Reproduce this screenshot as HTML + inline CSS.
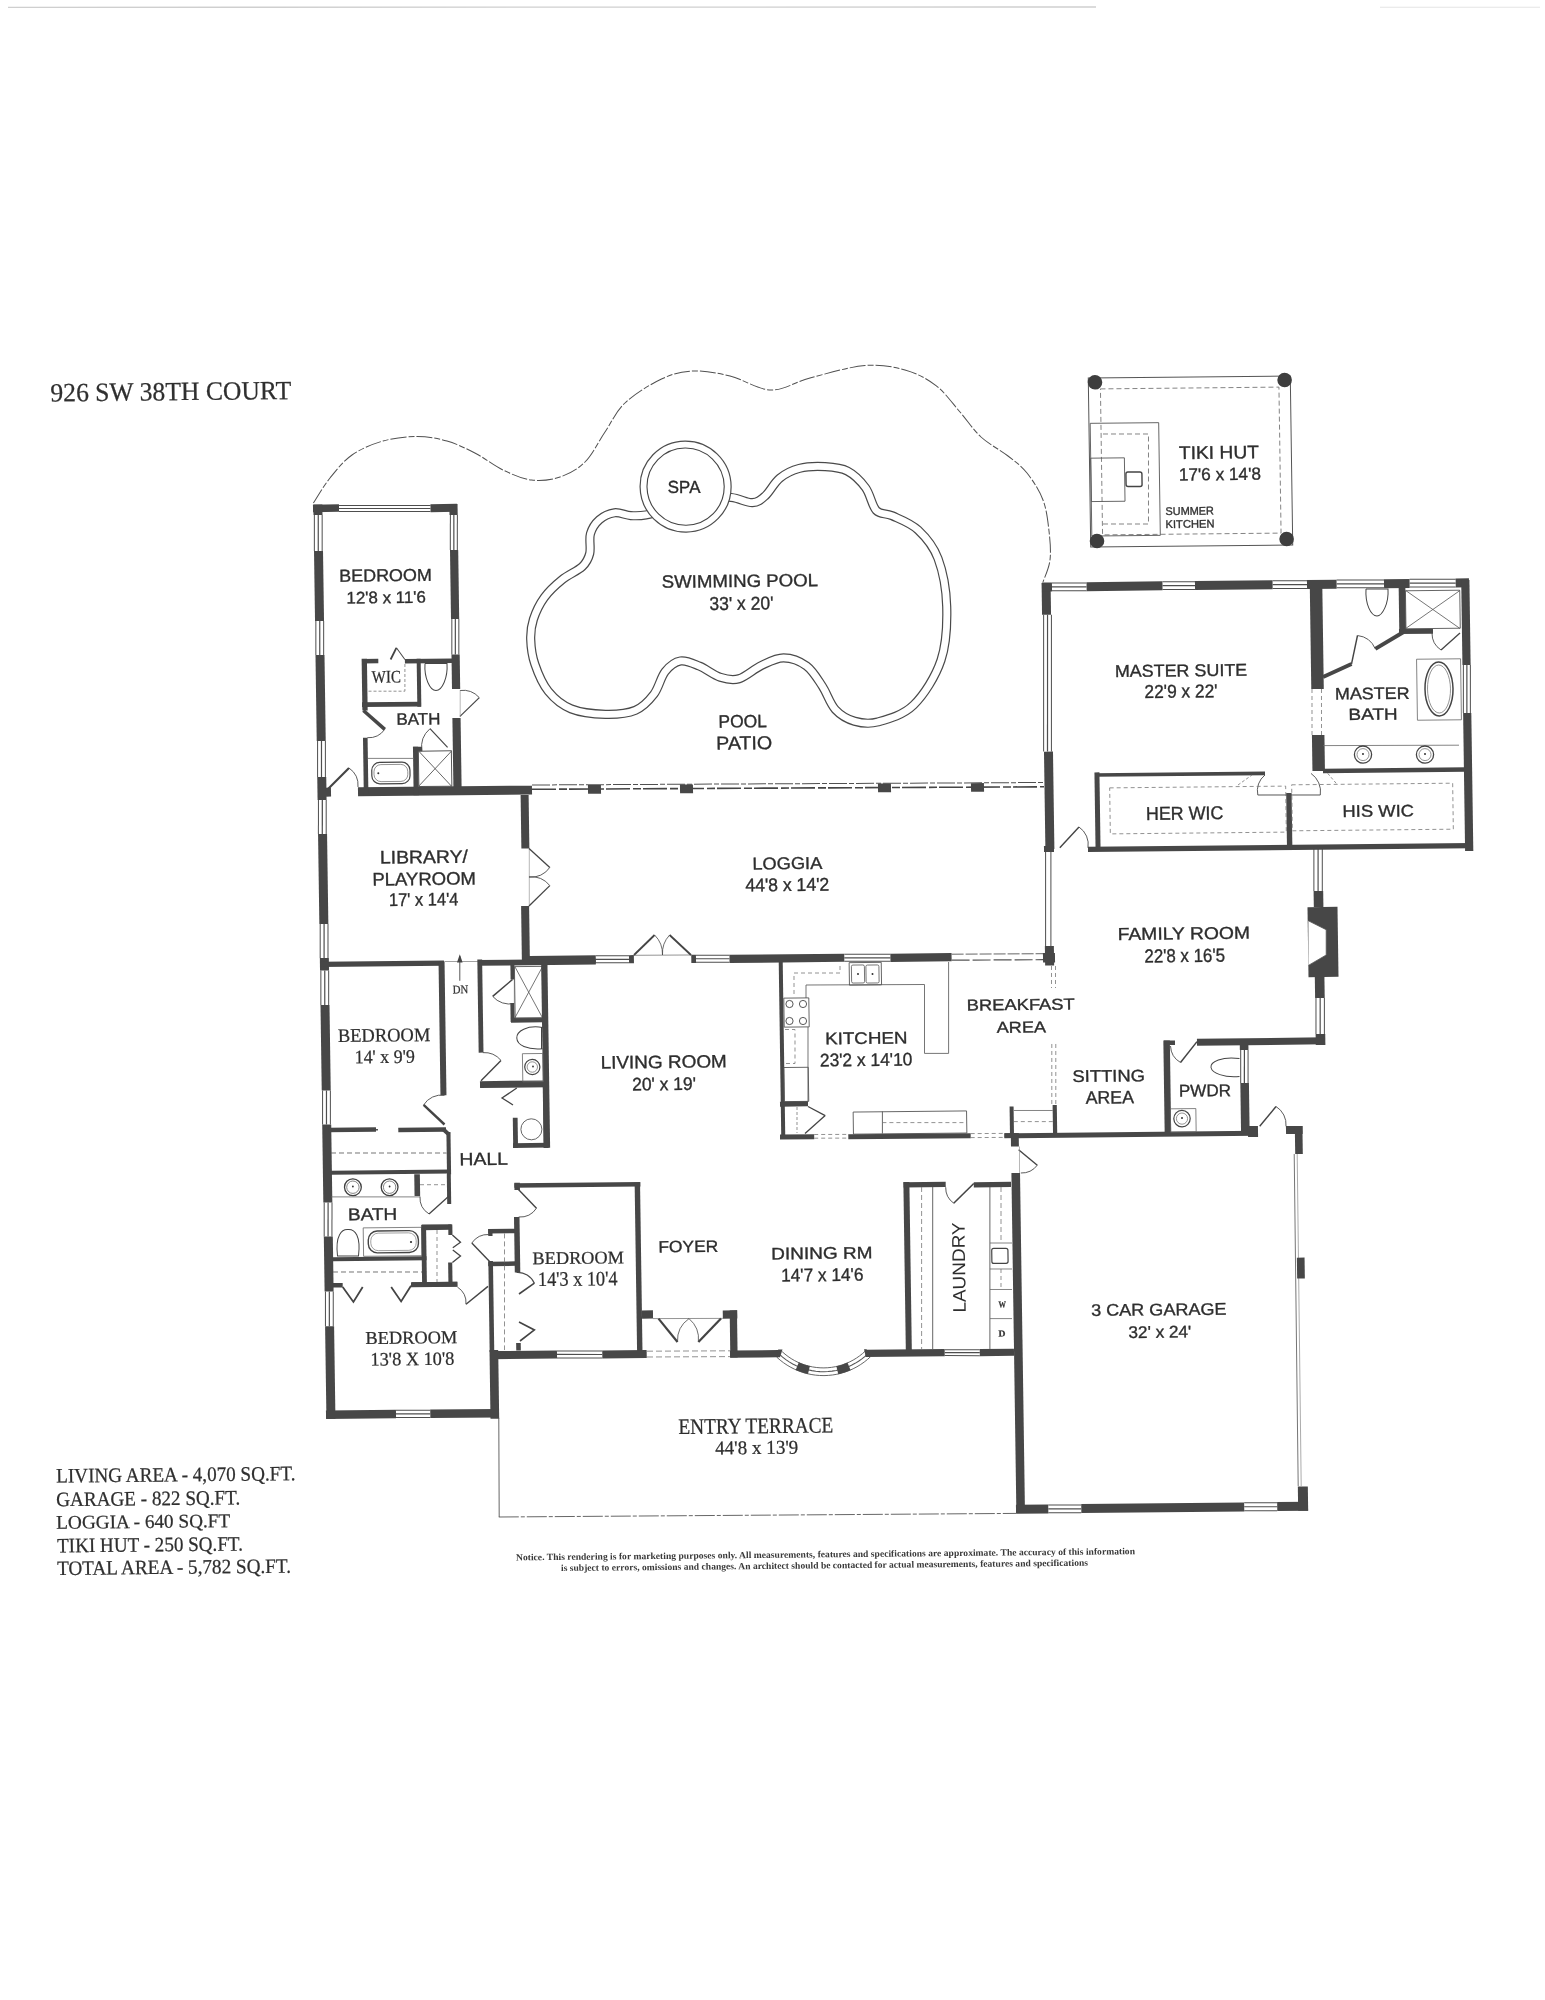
<!DOCTYPE html>
<html><head><meta charset="utf-8"><title>926 SW 38th Court</title>
<style>html,body{margin:0;padding:0;background:#fff;}svg{display:block;will-change:transform;}</style></head>
<body>
<svg width="1545" height="2000" viewBox="0 0 1545 2000">
<rect x="0" y="0" width="1545" height="2000" fill="#ffffff"/>
<line x1="8" y1="7.3" x2="1096" y2="7.0" stroke="#cfcfcf" stroke-width="1.3"/><line x1="1380" y1="7.2" x2="1540" y2="7.2" stroke="#e4e4e4" stroke-width="1.1"/>
<g transform="matrix(1,-0.010000,0.014500,1,-13.7750,9.0000)">
<text x="58.58" y="392.99" font-family='"Liberation Serif", serif' font-size="26.28" font-weight="normal" fill="#2f2f2f" stroke="#2f2f2f" stroke-width="0.25" textLength="240.8" lengthAdjust="spacingAndGlyphs">926 SW 38TH COURT</text>
<text x="48.7" y="1474.09" font-family='"Liberation Serif", serif' font-size="20.54" font-weight="normal" fill="#2f2f2f" stroke="#2f2f2f" stroke-width="0.25" textLength="239.2" lengthAdjust="spacingAndGlyphs">LIVING AREA - 4,070 SQ.FT.</text>
<text x="48.36" y="1497.68" font-family='"Liberation Serif", serif' font-size="20.54" font-weight="normal" fill="#2f2f2f" stroke="#2f2f2f" stroke-width="0.25" textLength="184" lengthAdjust="spacingAndGlyphs">GARAGE - 822 SQ.FT.</text>
<text x="48.03" y="1520.28" font-family='"Liberation Serif", serif' font-size="19.34" font-weight="normal" fill="#2f2f2f" stroke="#2f2f2f" stroke-width="0.25" textLength="174" lengthAdjust="spacingAndGlyphs">LOGGIA - 640 SQ.FT</text>
<text x="48.59" y="1543.89" font-family='"Liberation Serif", serif' font-size="20.54" font-weight="normal" fill="#2f2f2f" stroke="#2f2f2f" stroke-width="0.25" textLength="185.8" lengthAdjust="spacingAndGlyphs">TIKI HUT - 250 SQ.FT.</text>
<text x="48.26" y="1566.48" font-family='"Liberation Serif", serif' font-size="20.39" font-weight="normal" fill="#2f2f2f" stroke="#2f2f2f" stroke-width="0.25" textLength="233.8" lengthAdjust="spacingAndGlyphs">TOTAL AREA - 5,782 SQ.FT.</text>
<text x="507.21" y="1556.47" font-family='"Liberation Serif", serif' font-size="9.37" font-weight="bold" fill="#3a3a3a" textLength="619" lengthAdjust="spacingAndGlyphs">Notice. This rendering is for marketing purposes only. All measurements, features and specifications are approximate. The accuracy of this information</text>
<text x="552.05" y="1567.52" font-family='"Liberation Serif", serif' font-size="9.37" font-weight="bold" fill="#3a3a3a" textLength="527" lengthAdjust="spacingAndGlyphs">is subject to errors, omissions and changes. An architect should be contacted for actual measurements, features and specifications</text>
<path d="M319.97 497.2 C322.79 493.06 330.38 480.3 336.93 472.37 C343.47 464.43 350.33 455.67 359.26 449.59 C368.18 443.52 379.51 438.88 390.45 435.9 C401.4 432.93 414.25 431.64 424.91 431.75 C435.58 431.86 444.75 433.61 454.45 436.54 C464.14 439.47 473.8 444.4 483.06 449.33 C492.32 454.26 500.8 461.59 510.02 466.1 C519.23 470.61 528.89 475.12 538.37 476.38 C547.85 477.65 557.95 476.58 566.91 473.67 C575.87 470.76 584.51 466.35 592.12 458.92 C599.73 451.5 605.74 438.89 612.55 429.13 C619.36 419.36 623.43 409.07 632.97 400.33 C642.51 391.59 658.4 381.92 669.81 376.7 C681.22 371.48 690 369.4 701.42 369.01 C712.85 368.63 725.39 371.09 738.35 374.38 C751.3 377.68 765.81 388.32 779.14 388.79 C792.46 389.26 802.58 381.11 818.31 377.18 C834.03 373.26 857.63 366.41 873.48 365.23 C889.33 364.06 901.63 366.67 913.41 370.13 C925.19 373.6 935.11 378.95 944.18 386.04 C953.24 393.13 960.42 404.04 967.79 412.68 C975.17 421.32 980.53 430.47 988.43 437.88 C996.32 445.3 1007.57 451.08 1015.15 457.15 C1022.72 463.23 1028.17 466.95 1033.9 474.34 C1039.62 481.73 1045.98 491.79 1049.5 501.5 C1053.03 511.2 1054.03 522.54 1055.05 532.55 C1056.07 542.56 1056.76 553.07 1055.63 561.56 C1054.51 570.05 1049.53 579.83 1048.31 583.48" fill="none" stroke="#505050" stroke-width="1.0" stroke-dasharray="16 2 6 2"/>
<path d="M652.27 512.47 C646.37 513.44 642.31 513.38 637.08 512.96 C631.86 512.55 626.14 509.34 620.9 509.97 C615.66 510.61 609.71 513.32 605.65 516.77 C601.58 520.23 598.22 525.09 596.53 530.71 C594.83 536.32 596.95 544.99 595.5 550.46 C594.05 555.93 592.49 559.21 587.84 563.53 C583.19 567.84 573.99 571.28 567.6 576.36 C561.2 581.44 554.37 587.45 549.48 594.01 C544.59 600.56 540.64 608.74 538.27 615.69 C535.9 622.65 535.13 628.29 535.26 635.75 C535.38 643.2 536.18 651.73 539.01 660.43 C541.83 669.13 546.24 680.41 552.19 687.94 C558.14 695.47 565.24 701.7 574.69 705.61 C584.15 709.52 598.23 711.05 608.94 711.39 C619.64 711.73 630.82 710.92 638.93 707.67 C647.04 704.41 652.56 698.25 657.61 691.86 C662.66 685.46 664.69 674.83 669.2 669.31 C673.72 663.8 678.98 659.65 684.7 658.79 C690.43 657.92 696.93 661.32 703.55 664.12 C710.17 666.92 717.85 673.43 724.43 675.6 C731 677.77 736.17 679.06 743 677.16 C749.82 675.26 757.92 667.62 765.39 664.2 C772.87 660.79 780.3 656.54 787.85 656.68 C795.4 656.82 804.31 660.23 810.69 665.03 C817.08 669.83 821.46 678.17 826.15 685.49 C830.83 692.8 833.52 703.03 838.82 708.92 C844.12 714.81 850.85 718.69 857.93 720.82 C865 722.96 871.39 724.34 881.26 721.74 C891.13 719.14 906.48 715.37 917.13 705.2 C927.79 695.02 939.43 677.08 945.18 660.7 C950.94 644.32 951.92 623.89 951.68 606.92 C951.43 589.95 948.28 571.68 943.7 558.91 C939.13 546.13 931.74 537.46 924.22 530.27 C916.7 523.07 905.51 519.08 898.58 515.75 C891.65 512.42 887.03 514.99 882.66 510.3 C878.28 505.6 877.03 494.18 872.32 487.57 C867.6 480.96 861.08 474.23 854.38 470.63 C847.68 467.04 840.1 466.55 832.1 466.01 C824.11 465.48 813.96 465.62 806.39 467.45 C798.82 469.28 792.45 472.47 786.7 476.99 C780.94 481.5 776.51 490.49 771.87 494.54 C767.24 498.59 764.58 501.07 758.89 501.29 C753.2 501.51 746.34 496.81 737.74 495.86 C729.13 494.91 718.1 493.73 707.23 495.61 C696.36 497.5 681.67 504.35 672.51 507.16 C663.35 509.96 658.17 511.5 652.27 512.47Z" fill="none" stroke="#4a4a4a" stroke-width="9.2"/>
<path d="M652.27 512.47 C646.37 513.44 642.31 513.38 637.08 512.96 C631.86 512.55 626.14 509.34 620.9 509.97 C615.66 510.61 609.71 513.32 605.65 516.77 C601.58 520.23 598.22 525.09 596.53 530.71 C594.83 536.32 596.95 544.99 595.5 550.46 C594.05 555.93 592.49 559.21 587.84 563.53 C583.19 567.84 573.99 571.28 567.6 576.36 C561.2 581.44 554.37 587.45 549.48 594.01 C544.59 600.56 540.64 608.74 538.27 615.69 C535.9 622.65 535.13 628.29 535.26 635.75 C535.38 643.2 536.18 651.73 539.01 660.43 C541.83 669.13 546.24 680.41 552.19 687.94 C558.14 695.47 565.24 701.7 574.69 705.61 C584.15 709.52 598.23 711.05 608.94 711.39 C619.64 711.73 630.82 710.92 638.93 707.67 C647.04 704.41 652.56 698.25 657.61 691.86 C662.66 685.46 664.69 674.83 669.2 669.31 C673.72 663.8 678.98 659.65 684.7 658.79 C690.43 657.92 696.93 661.32 703.55 664.12 C710.17 666.92 717.85 673.43 724.43 675.6 C731 677.77 736.17 679.06 743 677.16 C749.82 675.26 757.92 667.62 765.39 664.2 C772.87 660.79 780.3 656.54 787.85 656.68 C795.4 656.82 804.31 660.23 810.69 665.03 C817.08 669.83 821.46 678.17 826.15 685.49 C830.83 692.8 833.52 703.03 838.82 708.92 C844.12 714.81 850.85 718.69 857.93 720.82 C865 722.96 871.39 724.34 881.26 721.74 C891.13 719.14 906.48 715.37 917.13 705.2 C927.79 695.02 939.43 677.08 945.18 660.7 C950.94 644.32 951.92 623.89 951.68 606.92 C951.43 589.95 948.28 571.68 943.7 558.91 C939.13 546.13 931.74 537.46 924.22 530.27 C916.7 523.07 905.51 519.08 898.58 515.75 C891.65 512.42 887.03 514.99 882.66 510.3 C878.28 505.6 877.03 494.18 872.32 487.57 C867.6 480.96 861.08 474.23 854.38 470.63 C847.68 467.04 840.1 466.55 832.1 466.01 C824.11 465.48 813.96 465.62 806.39 467.45 C798.82 469.28 792.45 472.47 786.7 476.99 C780.94 481.5 776.51 490.49 771.87 494.54 C767.24 498.59 764.58 501.07 758.89 501.29 C753.2 501.51 746.34 496.81 737.74 495.86 C729.13 494.91 718.1 493.73 707.23 495.61 C696.36 497.5 681.67 504.35 672.51 507.16 C663.35 509.96 658.17 511.5 652.27 512.47Z" fill="none" stroke="#fff" stroke-width="6.8"/>
<circle cx="692.35" cy="484.52" r="41.9" fill="#fff" stroke="#4d4d4d" stroke-width="8.4"/>
<circle cx="692.35" cy="484.52" r="41.9" fill="#fff" stroke="#fff" stroke-width="6.0"/>
<circle cx="692.35" cy="484.52" r="38.6" fill="none" stroke="#444" stroke-width="1.1"/>
<text x="674.46" y="490.84" font-family='"Liberation Sans", sans-serif' font-size="17.46" font-weight="normal" fill="#2a2a2a" stroke="#2a2a2a" stroke-width="0.35" textLength="32.7" lengthAdjust="spacingAndGlyphs">SPA</text>
<text x="667.09" y="585.47" font-family='"Liberation Sans", sans-serif' font-size="17.88" font-weight="normal" fill="#2e2e2e" stroke="#2e2e2e" stroke-width="0.35" textLength="156.3" lengthAdjust="spacingAndGlyphs">SWIMMING POOL</text>
<text x="714.46" y="608.24" font-family='"Liberation Sans", sans-serif' font-size="18.72" font-weight="normal" fill="#2e2e2e" stroke="#2e2e2e" stroke-width="0.35" textLength="64" lengthAdjust="spacingAndGlyphs">33' x 20'</text>
<text x="721.85" y="725.92" font-family='"Liberation Sans", sans-serif' font-size="18.02" font-weight="normal" fill="#2e2e2e" stroke="#2e2e2e" stroke-width="0.35" textLength="48.4" lengthAdjust="spacingAndGlyphs">POOL</text>
<text x="719.23" y="747.79" font-family='"Liberation Sans", sans-serif' font-size="18.58" font-weight="normal" fill="#2e2e2e" stroke="#2e2e2e" stroke-width="0.35" textLength="55.9" lengthAdjust="spacingAndGlyphs">PATIO</text>
<rect x="1096.54" y="379.98" width="202" height="169" fill="none" stroke="#555" stroke-width="1"/>
<rect x="1108.55" y="390.98" width="178.5" height="146" fill="none" stroke="#777" stroke-width="0.9" stroke-dasharray="5 3"/>
<rect x="1097.79" y="425.32" width="68.5" height="112.7" fill="none" stroke="#555" stroke-width="0.9"/>
<polyline points="1110.45,436.1 1155.94,436.56 1154.64,526.55 1109.15,526.09" fill="none" stroke="#777" stroke-width="0.9" stroke-dasharray="5 3" stroke-linejoin="miter"/>
<rect x="1097.79" y="460.15" width="33.7" height="43.4" fill="none" stroke="#555" stroke-width="0.9"/>
<rect x="1132.79" y="474.41" width="16" height="14.5" rx="2" fill="none" stroke="#444" stroke-width="1.4"/>
<circle cx="1103.2" cy="384.33" r="7.3" fill="#3e3e3e"/>
<circle cx="1292.81" cy="383.93" r="7.3" fill="#3e3e3e"/>
<circle cx="1102.9" cy="543.03" r="7.3" fill="#3e3e3e"/>
<circle cx="1292.5" cy="542.93" r="7.3" fill="#3e3e3e"/>
<text x="1186.08" y="461.86" font-family='"Liberation Sans", sans-serif' font-size="18.16" font-weight="normal" fill="#2e2e2e" stroke="#2e2e2e" stroke-width="0.35" textLength="80" lengthAdjust="spacingAndGlyphs">TIKI HUT</text>
<text x="1185.76" y="483.46" font-family='"Liberation Sans", sans-serif' font-size="17.6" font-weight="normal" fill="#2e2e2e" stroke="#2e2e2e" stroke-width="0.35" textLength="82" lengthAdjust="spacingAndGlyphs">17'6 x 14'8</text>
<text x="1171.77" y="517.72" font-family='"Liberation Sans", sans-serif' font-size="11.17" font-weight="normal" fill="#333" stroke="#333" stroke-width="0.35" textLength="48.5" lengthAdjust="spacingAndGlyphs">SUMMER</text>
<text x="1171.58" y="530.72" font-family='"Liberation Sans", sans-serif' font-size="11.17" font-weight="normal" fill="#333" stroke="#333" stroke-width="0.35" textLength="49.1" lengthAdjust="spacingAndGlyphs">KITCHEN</text>
<rect x="319.49" y="498.82" width="26" height="7.5" fill="#474747"/>
<polyline points="345.52,500.06 437.01,500.97" fill="none" stroke="#4e4e4e" stroke-width="1" stroke-linejoin="miter"/>
<polyline points="345.44,505.85 436.93,506.77" fill="none" stroke="#4e4e4e" stroke-width="1" stroke-linejoin="miter"/>
<polyline points="345.48,502.95 436.97,503.87" fill="none" stroke="#4e4e4e" stroke-width="1.2" stroke-linejoin="miter"/>
<rect x="436.97" y="499.5" width="26.5" height="8" fill="#474747"/>
<rect x="319.89" y="498.74" width="9" height="10.5" fill="#474747"/>
<polyline points="320.75,509.21 320.23,545.2" fill="none" stroke="#4e4e4e" stroke-width="1" stroke-linejoin="miter"/>
<polyline points="328.55,509.29 328.03,545.28" fill="none" stroke="#4e4e4e" stroke-width="1" stroke-linejoin="miter"/>
<polyline points="324.65,509.25 324.13,545.24" fill="none" stroke="#4e4e4e" stroke-width="1.2" stroke-linejoin="miter"/>
<rect x="319.88" y="545.24" width="9" height="70" fill="#474747"/>
<polyline points="320.71,615.21 320.22,649.2" fill="none" stroke="#4e4e4e" stroke-width="1" stroke-linejoin="miter"/>
<polyline points="328.51,615.29 328.02,649.28" fill="none" stroke="#4e4e4e" stroke-width="1" stroke-linejoin="miter"/>
<polyline points="324.61,615.25 324.12,649.24" fill="none" stroke="#4e4e4e" stroke-width="1.2" stroke-linejoin="miter"/>
<rect x="319.85" y="649.24" width="9" height="86" fill="#474747"/>
<polyline points="320.7,735.21 320.18,771.2" fill="none" stroke="#4e4e4e" stroke-width="1" stroke-linejoin="miter"/>
<polyline points="328.5,735.29 327.98,771.28" fill="none" stroke="#4e4e4e" stroke-width="1" stroke-linejoin="miter"/>
<polyline points="324.6,735.25 324.08,771.24" fill="none" stroke="#4e4e4e" stroke-width="1.2" stroke-linejoin="miter"/>
<rect x="319.84" y="771.24" width="9" height="23" fill="#474747"/>
<polyline points="320.68,794.21 320.18,828.2" fill="none" stroke="#4e4e4e" stroke-width="1" stroke-linejoin="miter"/>
<polyline points="328.48,794.28 327.98,828.28" fill="none" stroke="#4e4e4e" stroke-width="1" stroke-linejoin="miter"/>
<polyline points="324.58,794.25 324.08,828.24" fill="none" stroke="#4e4e4e" stroke-width="1.2" stroke-linejoin="miter"/>
<rect x="319.82" y="828.24" width="9" height="90" fill="#474747"/>
<polyline points="320.65,918.21 320.16,952.2" fill="none" stroke="#4e4e4e" stroke-width="1" stroke-linejoin="miter"/>
<polyline points="328.45,918.28 327.96,952.28" fill="none" stroke="#4e4e4e" stroke-width="1" stroke-linejoin="miter"/>
<polyline points="324.55,918.25 324.06,952.24" fill="none" stroke="#4e4e4e" stroke-width="1.2" stroke-linejoin="miter"/>
<rect x="319.8" y="952.24" width="9" height="12.5" fill="#474747"/>
<polyline points="320.65,964.71 320.15,999.2" fill="none" stroke="#4e4e4e" stroke-width="1" stroke-linejoin="miter"/>
<polyline points="328.45,964.78 327.95,999.28" fill="none" stroke="#4e4e4e" stroke-width="1" stroke-linejoin="miter"/>
<polyline points="324.55,964.75 324.05,999.24" fill="none" stroke="#4e4e4e" stroke-width="1.2" stroke-linejoin="miter"/>
<rect x="319.78" y="999.24" width="9" height="85.5" fill="#474747"/>
<polyline points="320.62,1084.71 320.13,1118.7" fill="none" stroke="#4e4e4e" stroke-width="1" stroke-linejoin="miter"/>
<polyline points="328.42,1084.78 327.93,1118.78" fill="none" stroke="#4e4e4e" stroke-width="1" stroke-linejoin="miter"/>
<polyline points="324.52,1084.75 324.03,1118.74" fill="none" stroke="#4e4e4e" stroke-width="1.2" stroke-linejoin="miter"/>
<rect x="319.76" y="1118.74" width="9" height="78" fill="#474747"/>
<polyline points="320.6,1196.71 320.1,1230.7" fill="none" stroke="#4e4e4e" stroke-width="1" stroke-linejoin="miter"/>
<polyline points="328.4,1196.78 327.9,1230.78" fill="none" stroke="#4e4e4e" stroke-width="1" stroke-linejoin="miter"/>
<polyline points="324.5,1196.74 324,1230.74" fill="none" stroke="#4e4e4e" stroke-width="1.2" stroke-linejoin="miter"/>
<rect x="319.74" y="1230.74" width="9" height="55" fill="#474747"/>
<polyline points="320.59,1285.71 320.08,1320.5" fill="none" stroke="#4e4e4e" stroke-width="1" stroke-linejoin="miter"/>
<polyline points="328.38,1285.78 327.88,1320.58" fill="none" stroke="#4e4e4e" stroke-width="1" stroke-linejoin="miter"/>
<polyline points="324.48,1285.74 323.98,1320.54" fill="none" stroke="#4e4e4e" stroke-width="1.2" stroke-linejoin="miter"/>
<rect x="319.72" y="1320.54" width="9" height="92.5" fill="#474747"/>
<rect x="455.87" y="499.6" width="8.2" height="11" fill="#474747"/>
<polyline points="456.72,510.57 456.21,545.56" fill="none" stroke="#4e4e4e" stroke-width="1" stroke-linejoin="miter"/>
<polyline points="463.72,510.64 463.21,545.63" fill="none" stroke="#4e4e4e" stroke-width="1" stroke-linejoin="miter"/>
<polyline points="460.22,510.6 459.71,545.6" fill="none" stroke="#4e4e4e" stroke-width="1.2" stroke-linejoin="miter"/>
<rect x="455.86" y="545.6" width="8.2" height="69" fill="#474747"/>
<polyline points="456.7,614.57 456.19,650.06" fill="none" stroke="#4e4e4e" stroke-width="1" stroke-linejoin="miter"/>
<polyline points="463.7,614.64 463.19,650.13" fill="none" stroke="#4e4e4e" stroke-width="1" stroke-linejoin="miter"/>
<polyline points="460.2,614.6 459.69,650.1" fill="none" stroke="#4e4e4e" stroke-width="1.2" stroke-linejoin="miter"/>
<rect x="455.84" y="650.1" width="8.2" height="34.5" fill="#474747"/>
<rect x="455.82" y="713.6" width="8.2" height="77" fill="#474747"/>
<rect x="360.37" y="781.97" width="174" height="8.8" fill="#474747"/>
<rect x="328.37" y="781.91" width="5" height="9" fill="#474747"/>
<polyline points="330.42,783.3 351.72,762.52" fill="none" stroke="#444" stroke-width="2.2" stroke-linejoin="miter"/>
<path d="M351.72 762.52 A21 21 0 0 1 360.44 781.6" fill="none" stroke="#4a4a4a" stroke-width="0.9"/>
<rect x="365.92" y="653.49" width="5.3" height="51.7" fill="#474747"/>
<rect x="366.27" y="653.54" width="16.3" height="4.5" fill="#474747"/>
<rect x="409.16" y="654.13" width="47.1" height="4.5" fill="#474747"/>
<rect x="420.94" y="654.03" width="4" height="47.9" fill="#474747"/>
<rect x="365.64" y="696.95" width="59" height="4.7" fill="#474747"/>
<polyline points="394.89,654.45 400.85,642.81" fill="none" stroke="#444" stroke-width="1.8" stroke-linejoin="miter"/>
<polyline points="400.85,642.81 409.18,654.59" fill="none" stroke="#444" stroke-width="1" stroke-linejoin="miter"/>
<polyline points="409.12,659.09 408.72,686.29" fill="none" stroke="#777" stroke-width="0.8" stroke-dasharray="3 2" stroke-linejoin="miter"/>
<polyline points="372.33,685.92 408.72,686.29" fill="none" stroke="#777" stroke-width="0.8" stroke-dasharray="3 2" stroke-linejoin="miter"/>
<polyline points="366.95,705.17 388.07,724.18" fill="none" stroke="#474747" stroke-width="3.6" stroke-linejoin="miter"/>
<path d="M388.07 724.18 A20 20 0 0 1 370.46 732.4" fill="none" stroke="#4a4a4a" stroke-width="0.9"/>
<rect x="366.14" y="732.38" width="4.6" height="57.6" fill="#474747"/>
<rect x="415.96" y="741.99" width="5.2" height="48.5" fill="#474747"/>
<rect x="416.28" y="742.01" width="8.7" height="4.5" fill="#474747"/>
<rect x="421.3" y="746.38" width="33" height="35.3" fill="none" stroke="#555" stroke-width="1"/>
<polyline points="421.55,746.22 454.04,781.84" fill="none" stroke="#555" stroke-width="0.9" stroke-linejoin="miter"/>
<polyline points="454.55,746.55 421.04,781.51" fill="none" stroke="#555" stroke-width="0.9" stroke-linejoin="miter"/>
<polyline points="450.6,742.91 433.28,724.03" fill="none" stroke="#444" stroke-width="1.2" stroke-linejoin="miter"/>
<path d="M433.28 724.03 A24 24 0 0 0 424.95 746.25" fill="none" stroke="#4a4a4a" stroke-width="0.9"/>
<rect x="374.44" y="757.24" width="38.2" height="21.4" rx="8" fill="none" stroke="#444" stroke-width="1.2"/>
<rect x="376.64" y="759.44" width="33.8" height="17" rx="7" fill="none" stroke="#666" stroke-width="0.7"/>
<polyline points="370.85,753.11 416.75,753.57" fill="none" stroke="#666" stroke-width="0.8" stroke-linejoin="miter"/>
<circle cx="380.94" cy="768.11" r="1" fill="#333"/>
<path d="M429.22 658.79 L451.22 659.01 C452.01 673.52 445.83 685.96 439.83 685.9 C433.83 685.84 428.01 673.28 429.22 658.79" fill="none" stroke="#444" stroke-width="1"/>
<polyline points="463.45,712.03 483.02,693.43" fill="none" stroke="#444" stroke-width="1.2" stroke-linejoin="miter"/>
<path d="M483.02 693.43 A22 22 0 0 0 463.83 686.14" fill="none" stroke="#4a4a4a" stroke-width="0.9"/>
<polyline points="464.03,685.64 463.64,712.64" fill="none" stroke="#888" stroke-width="0.6" stroke-linejoin="miter"/>
<text x="344.72" y="576.15" font-family='"Liberation Sans", sans-serif' font-size="17.32" font-weight="normal" fill="#2e2e2e" stroke="#2e2e2e" stroke-width="0.35" textLength="92.7" lengthAdjust="spacingAndGlyphs">BEDROOM</text>
<text x="351.6" y="598.02" font-family='"Liberation Sans", sans-serif' font-size="16.76" font-weight="normal" fill="#2e2e2e" stroke="#2e2e2e" stroke-width="0.35" textLength="79.5" lengthAdjust="spacingAndGlyphs">12'8 x 11'6</text>
<text x="375.75" y="677.46" font-family='"Liberation Serif", serif' font-size="17.67" font-weight="normal" fill="#2e2e2e" stroke="#2e2e2e" stroke-width="0.25" textLength="29.2" lengthAdjust="spacingAndGlyphs">WIC</text>
<text x="399.74" y="719.8" font-family='"Liberation Sans", sans-serif' font-size="16.48" font-weight="normal" fill="#2e2e2e" stroke="#2e2e2e" stroke-width="0.35" textLength="44.1" lengthAdjust="spacingAndGlyphs">BATH</text>
<rect x="522.91" y="791.27" width="8" height="53.5" fill="#474747"/>
<rect x="521.79" y="902.26" width="8" height="56" fill="#474747"/>
<polyline points="530.83,844.81 529.99,902.3" fill="none" stroke="#888" stroke-width="0.6" stroke-linejoin="miter"/>
<polyline points="530.53,844.81 551.05,863.91" fill="none" stroke="#444" stroke-width="1.3" stroke-linejoin="miter"/>
<path d="M551.05 863.91 A22 22 0 0 1 530.11 873.3" fill="none" stroke="#4a4a4a" stroke-width="0.9"/>
<path d="M530.11 873.3 A22 22 0 0 1 550.78 882.11" fill="none" stroke="#4a4a4a" stroke-width="0.9"/>
<polyline points="550.78,882.11 529.69,902.3" fill="none" stroke="#444" stroke-width="1.3" stroke-linejoin="miter"/>
<rect x="320.87" y="956.02" width="123" height="5.2" fill="#474747"/>
<text x="381.33" y="858.41" font-family='"Liberation Sans", sans-serif' font-size="18.16" font-weight="normal" fill="#2e2e2e" stroke="#2e2e2e" stroke-width="0.35" textLength="88" lengthAdjust="spacingAndGlyphs">LIBRARY/</text>
<text x="373.51" y="880.34" font-family='"Liberation Sans", sans-serif' font-size="18.16" font-weight="normal" fill="#2e2e2e" stroke="#2e2e2e" stroke-width="0.35" textLength="103.5" lengthAdjust="spacingAndGlyphs">PLAYROOM</text>
<text x="389.71" y="900.9" font-family='"Liberation Sans", sans-serif' font-size="18.16" font-weight="normal" fill="#2e2e2e" stroke="#2e2e2e" stroke-width="0.35" textLength="69.5" lengthAdjust="spacingAndGlyphs">17' x 14'4</text>
<polyline points="534.45,781.34 1046.41,783.96" fill="none" stroke="#505050" stroke-width="1" stroke-dasharray="18 2 5 2" stroke-linejoin="miter"/>
<polyline points="534.38,785.64 1046.35,788.26" fill="none" stroke="#454545" stroke-width="1.6" stroke-dasharray="24 3 8 2" stroke-linejoin="miter"/>
<rect x="590.37" y="781.97" width="13" height="8.7" fill="#474747"/>
<rect x="682.37" y="782.43" width="13" height="8.7" fill="#474747"/>
<rect x="880.35" y="783.42" width="13" height="8.7" fill="#474747"/>
<rect x="973.35" y="783.88" width="13" height="8.7" fill="#474747"/>
<rect x="1046.88" y="584.51" width="9" height="31.7" fill="#474747"/>
<polyline points="1048.46,616.18 1046.47,753.06" fill="none" stroke="#4e4e4e" stroke-width="1" stroke-linejoin="miter"/>
<polyline points="1056.25,616.26 1054.27,753.14" fill="none" stroke="#4e4e4e" stroke-width="1" stroke-linejoin="miter"/>
<polyline points="1052.36,616.22 1050.37,753.1" fill="none" stroke="#4e4e4e" stroke-width="1.2" stroke-linejoin="miter"/>
<rect x="1046.84" y="753.11" width="9" height="97.4" fill="#474747"/>
<rect x="528.91" y="952.17" width="66.8" height="8.2" fill="#474747"/>
<polyline points="595.76,952.8 628.95,953.14" fill="none" stroke="#4e4e4e" stroke-width="1" stroke-linejoin="miter"/>
<polyline points="595.66,959.8 628.85,960.13" fill="none" stroke="#4e4e4e" stroke-width="1" stroke-linejoin="miter"/>
<polyline points="595.71,956.3 628.9,956.63" fill="none" stroke="#4e4e4e" stroke-width="1.2" stroke-linejoin="miter"/>
<rect x="628.91" y="952.44" width="4.9" height="8.2" fill="#474747"/>
<rect x="691.2" y="952.69" width="4.7" height="8.2" fill="#474747"/>
<polyline points="695.95,953.2 729.45,953.54" fill="none" stroke="#4e4e4e" stroke-width="1" stroke-linejoin="miter"/>
<polyline points="695.85,960.2 729.35,960.54" fill="none" stroke="#4e4e4e" stroke-width="1" stroke-linejoin="miter"/>
<polyline points="695.9,956.7 729.4,957.04" fill="none" stroke="#4e4e4e" stroke-width="1.2" stroke-linejoin="miter"/>
<rect x="729.4" y="953.07" width="114.8" height="8.2" fill="#474747"/>
<polyline points="844.25,953.76 890.34,954.22" fill="none" stroke="#4e4e4e" stroke-width="1" stroke-linejoin="miter"/>
<polyline points="844.14,960.76 890.24,961.22" fill="none" stroke="#4e4e4e" stroke-width="1" stroke-linejoin="miter"/>
<polyline points="844.19,957.26 890.29,957.72" fill="none" stroke="#4e4e4e" stroke-width="1.2" stroke-linejoin="miter"/>
<rect x="890.29" y="953.6" width="61.2" height="8.2" fill="#474747"/>
<polyline points="951.53,954.72 1042.93,955.13" fill="none" stroke="#555" stroke-width="0.9" stroke-dasharray="12 2" stroke-linejoin="miter"/>
<polyline points="951.44,960.71 1042.84,961.13" fill="none" stroke="#555" stroke-width="1.2" stroke-dasharray="18 3" stroke-linejoin="miter"/>
<rect x="1042.87" y="954.49" width="12" height="9.5" fill="#474747"/>
<polyline points="633.86,952.64 691.26,952.91" fill="none" stroke="#666" stroke-width="0.7" stroke-linejoin="miter"/>
<polyline points="633.97,952.34 654.85,932.55" fill="none" stroke="#444" stroke-width="1.8" stroke-linejoin="miter"/>
<polyline points="690.96,952.91 669.85,932.7" fill="none" stroke="#444" stroke-width="1.8" stroke-linejoin="miter"/>
<path d="M654.85 932.55 A27 27 0 0 1 662.46 952.62" fill="none" stroke="#4a4a4a" stroke-width="0.8"/>
<path d="M669.85 932.7 A27 27 0 0 0 662.46 952.62" fill="none" stroke="#4a4a4a" stroke-width="0.8"/>
<text x="753.59" y="868.04" font-family='"Liberation Sans", sans-serif' font-size="17.04" font-weight="normal" fill="#2e2e2e" stroke="#2e2e2e" stroke-width="0.35" textLength="69.9" lengthAdjust="spacingAndGlyphs">LOGGIA</text>
<text x="746.27" y="889.96" font-family='"Liberation Sans", sans-serif' font-size="18.44" font-weight="normal" fill="#2e2e2e" stroke="#2e2e2e" stroke-width="0.35" textLength="83.9" lengthAdjust="spacingAndGlyphs">44'8 x 14'2</text>
<rect x="438.43" y="956.81" width="6" height="133.9" fill="#474747"/>
<polyline points="421.42,1100.21 442.04,1119.92" fill="none" stroke="#444" stroke-width="2.4" stroke-linejoin="miter"/>
<path d="M421.42 1100.21 A21 21 0 0 1 442.46 1090.72" fill="none" stroke="#4a4a4a" stroke-width="0.9"/>
<rect x="325.87" y="1121.9" width="47.6" height="4.6" fill="#474747"/>
<polyline points="373.47,1124.43 375.47,1124.45" fill="none" stroke="#555" stroke-width="1.5" stroke-linejoin="miter"/>
<rect x="395.76" y="1122.6" width="47.7" height="4.6" fill="#474747"/>
<polyline points="440.96,1124.91 446.39,1130.06" fill="none" stroke="#474747" stroke-width="4" stroke-linejoin="miter"/>
<rect x="443.82" y="1127.46" width="4.1" height="42.2" fill="#474747"/>
<polyline points="328.14,1147.28 443.62,1148.44" fill="none" stroke="#666" stroke-width="0.9" stroke-dasharray="5 3" stroke-linejoin="miter"/>
<rect x="327.85" y="1165.08" width="119.8" height="4" fill="#474747"/>
<text x="336.75" y="1036.37" font-family='"Liberation Serif", serif' font-size="19.18" font-weight="normal" fill="#2e2e2e" stroke="#2e2e2e" stroke-width="0.25" textLength="92.4" lengthAdjust="spacingAndGlyphs">BEDROOM</text>
<text x="353.14" y="1057.83" font-family='"Liberation Serif", serif' font-size="19.03" font-weight="normal" fill="#2e2e2e" stroke="#2e2e2e" stroke-width="0.25" textLength="60.2" lengthAdjust="spacingAndGlyphs">14' x 9'9</text>
<circle cx="349.54" cy="1181.7" r="8.4" fill="none" stroke="#3f3f3f" stroke-width="1.3"/>
<circle cx="349.54" cy="1181.7" r="6.2" fill="none" stroke="#666" stroke-width="0.8"/>
<circle cx="349.55" cy="1181" r="0.9" fill="#333"/>
<circle cx="386.24" cy="1182.06" r="8.4" fill="none" stroke="#3f3f3f" stroke-width="1.3"/>
<circle cx="386.24" cy="1182.06" r="6.2" fill="none" stroke="#666" stroke-width="0.8"/>
<circle cx="386.25" cy="1181.36" r="0.9" fill="#333"/>
<rect x="411.06" y="1169.34" width="5.6" height="21.8" fill="#474747"/>
<polyline points="327.5,1191.18 416.49,1192.06" fill="none" stroke="#666" stroke-width="0.8" stroke-linejoin="miter"/>
<polyline points="416.67,1179.87 443.66,1180.14" fill="none" stroke="#777" stroke-width="0.8" stroke-dasharray="4 3" stroke-linejoin="miter"/>
<rect x="443.6" y="1169.46" width="4" height="30" fill="#474747"/>
<path d="M416.5 1191.66 A19 19 0 0 0 425.24 1209.15" fill="none" stroke="#4a4a4a" stroke-width="0.9"/>
<polyline points="425.24,1209.15 445.5,1191.45" fill="none" stroke="#444" stroke-width="1.3" stroke-linejoin="miter"/>
<text x="344.16" y="1214.74" font-family='"Liberation Sans", sans-serif' font-size="16.9" font-weight="normal" fill="#2e2e2e" stroke="#2e2e2e" stroke-width="0.35" textLength="49.4" lengthAdjust="spacingAndGlyphs">BATH</text>
<path d="M333.15 1250.33 C330.95 1229.31 338.04 1223.38 344.03 1223.94 L344.03 1223.94 C351.03 1223.51 356.93 1230.57 354.14 1250.54 Z" fill="none" stroke="#444" stroke-width="1"/>
<rect x="359.24" y="1222.48" width="58.3" height="28.4" fill="none" stroke="#666" stroke-width="0.8"/>
<rect x="364.14" y="1225.69" width="50.1" height="21.9" rx="9" fill="none" stroke="#444" stroke-width="1.4"/>
<rect x="366.64" y="1227.89" width="45.4" height="17.5" rx="7.5" fill="none" stroke="#777" stroke-width="0.7"/>
<circle cx="406.84" cy="1237.07" r="1.1" fill="#333"/>
<rect x="328.3" y="1251.45" width="93.8" height="4.1" fill="#474747"/>
<polyline points="328.41,1266.28 417.4,1267.17" fill="none" stroke="#666" stroke-width="0.9" stroke-dasharray="5 3" stroke-linejoin="miter"/>
<rect x="417.34" y="1220.2" width="4.8" height="61" fill="#474747"/>
<rect x="417.75" y="1219.73" width="29.9" height="5.6" fill="#474747"/>
<rect x="444.31" y="1219.86" width="4.1" height="10.5" fill="#474747"/>
<rect x="443.66" y="1257.86" width="4.1" height="23.6" fill="#474747"/>
<rect x="407.22" y="1277.3" width="45.3" height="4.8" fill="#474747"/>
<polyline points="433.01,1225.33 432.25,1277.32" fill="none" stroke="#777" stroke-width="0.8" stroke-dasharray="4 3" stroke-linejoin="miter"/>
<polyline points="448.33,1230.48 456.33,1237.76 448.55,1243.29" fill="none" stroke="#444" stroke-width="1.3" stroke-linejoin="miter"/>
<polyline points="448.52,1245.49 456.13,1251.56 447.94,1257.88" fill="none" stroke="#444" stroke-width="1.3" stroke-linejoin="miter"/>
<rect x="327.92" y="1277.33" width="10" height="4.5" fill="#474747"/>
<polyline points="337.9,1281.38 348.38,1296.48 357.89,1281.58" fill="none" stroke="#444" stroke-width="1.8" stroke-linejoin="miter"/>
<polyline points="386.39,1281.86 396.08,1296.36 406.2,1280.76" fill="none" stroke="#444" stroke-width="1.8" stroke-linejoin="miter"/>
<rect x="406.22" y="1277.29" width="46.4" height="5" fill="#474747"/>
<path d="M452.58 1282.53 A19 19 0 0 1 460.93 1299.81" fill="none" stroke="#4a4a4a" stroke-width="0.9"/>
<polyline points="460.93,1299.81 483.18,1282.23" fill="none" stroke="#444" stroke-width="1.4" stroke-linejoin="miter"/>
<rect x="483.89" y="1256.86" width="4.6" height="91" fill="#474747"/>
<rect x="483.76" y="1345.88" width="8.7" height="68.8" fill="#474747"/>
<rect x="319.35" y="1404.6" width="70" height="8.5" fill="#474747"/>
<polyline points="389.4,1405.13 423.7,1405.47" fill="none" stroke="#4e4e4e" stroke-width="1" stroke-linejoin="miter"/>
<polyline points="389.29,1412.43 423.59,1412.77" fill="none" stroke="#4e4e4e" stroke-width="1" stroke-linejoin="miter"/>
<polyline points="389.35,1408.78 423.64,1409.12" fill="none" stroke="#4e4e4e" stroke-width="1.2" stroke-linejoin="miter"/>
<rect x="423.64" y="1404.8" width="68.4" height="8.5" fill="#474747"/>
<text x="359.87" y="1338.6" font-family='"Liberation Serif", serif' font-size="18.13" font-weight="normal" fill="#2e2e2e" stroke="#2e2e2e" stroke-width="0.25" textLength="91.9" lengthAdjust="spacingAndGlyphs">BEDROOM</text>
<text x="364.55" y="1360.15" font-family='"Liberation Serif", serif' font-size="18.88" font-weight="normal" fill="#2e2e2e" stroke="#2e2e2e" stroke-width="0.25" textLength="84" lengthAdjust="spacingAndGlyphs">13'8 X 10'8</text>
<polyline points="444.9,956.95 477.89,957.28" fill="none" stroke="#777" stroke-width="0.7" stroke-linejoin="miter"/>
<polyline points="459.78,951.6 459.42,976.39" fill="none" stroke="#444" stroke-width="0.9" stroke-linejoin="miter"/>
<polygon points="456.88,958.07 459.8,949.9 462.48,958.12" fill="#444"/>
<text x="452.14" y="988.92" font-family='"Liberation Serif", serif' font-size="11.78" font-weight="normal" fill="#333" stroke="#333" stroke-width="0.25" textLength="15.6" lengthAdjust="spacingAndGlyphs">DN</text>
<rect x="477.25" y="955.2" width="4.8" height="93.2" fill="#474747"/>
<rect x="477.87" y="955.77" width="117.8" height="5.8" fill="#474747"/>
<path d="M481.37 1048.41 A22 22 0 0 1 499.46 1056.39" fill="none" stroke="#4a4a4a" stroke-width="0.9"/>
<polyline points="499.46,1056.39 479.16,1076.59" fill="none" stroke="#444" stroke-width="1.4" stroke-linejoin="miter"/>
<rect x="478.11" y="1076.92" width="68" height="6.8" fill="#474747"/>
<rect x="510.23" y="961.12" width="4" height="14.5" fill="#474747"/>
<rect x="509.65" y="999.12" width="4" height="19" fill="#474747"/>
<polyline points="513.93,975.64 513.59,999.14" fill="none" stroke="#888" stroke-width="0.6" stroke-linejoin="miter"/>
<rect x="510.04" y="1013.97" width="33" height="4.8" fill="#474747"/>
<rect x="514.24" y="962.78" width="27.8" height="51.5" fill="none" stroke="#555" stroke-width="0.9"/>
<polyline points="514.62,962.65 541.67,1014.42" fill="none" stroke="#555" stroke-width="0.8" stroke-linejoin="miter"/>
<polyline points="542.41,962.92 513.87,1014.14" fill="none" stroke="#555" stroke-width="0.8" stroke-linejoin="miter"/>
<polyline points="512.13,975.62 492.09,992.32" fill="none" stroke="#444" stroke-width="1.5" stroke-linejoin="miter"/>
<path d="M492.09 992.32 A22 22 0 0 0 513.48 999.63" fill="none" stroke="#4a4a4a" stroke-width="0.9"/>
<rect x="541.01" y="961.44" width="6.3" height="182.8" fill="#474747"/>
<path d="M541.43 1023.81 C525.97 1021.26 515.38 1027.15 515.58 1034.16 C515.68 1041.16 525.6 1046.26 541.12 1045.11" fill="none" stroke="#444" stroke-width="1"/>
<polyline points="540.44,1023.4 540.12,1045.4" fill="none" stroke="#444" stroke-width="1" stroke-linejoin="miter"/>
<rect x="520.95" y="1049.91" width="20.4" height="28.1" fill="none" stroke="#666" stroke-width="0.8"/>
<circle cx="530.66" cy="1063.31" r="7.6" fill="none" stroke="#444" stroke-width="1.2"/>
<circle cx="530.66" cy="1063.31" r="5.2" fill="none" stroke="#666" stroke-width="0.7"/>
<circle cx="531.36" cy="1062.81" r="0.9" fill="#333"/>
<polyline points="514.85,1084.15 499.91,1094 510.81,1101.11" fill="none" stroke="#444" stroke-width="1.3" stroke-linejoin="miter"/>
<rect x="510.41" y="1113.83" width="4.8" height="30.1" fill="#474747"/>
<rect x="510.22" y="1139.28" width="35.8" height="4.8" fill="#474747"/>
<circle cx="528.85" cy="1125.59" r="10.5" fill="none" stroke="#555" stroke-width="0.9"/>
<text x="456.44" y="1160.76" font-family='"Liberation Sans", sans-serif' font-size="17.6" font-weight="normal" fill="#2e2e2e" stroke="#2e2e2e" stroke-width="0.35" textLength="48.5" lengthAdjust="spacingAndGlyphs">HALL</text>
<rect x="540.82" y="1083.43" width="4.8" height="61" fill="#474747"/>
<text x="599.02" y="1065.59" font-family='"Liberation Sans", sans-serif' font-size="18.02" font-weight="normal" fill="#2e2e2e" stroke="#2e2e2e" stroke-width="0.35" textLength="126.2" lengthAdjust="spacingAndGlyphs">LIVING ROOM</text>
<text x="630.2" y="1087.8" font-family='"Liberation Sans", sans-serif' font-size="18.16" font-weight="normal" fill="#2e2e2e" stroke="#2e2e2e" stroke-width="0.35" textLength="63.9" lengthAdjust="spacingAndGlyphs">20' x 19'</text>
<rect x="484.18" y="1224.88" width="28" height="4.5" fill="#474747"/>
<rect x="484.16" y="1224.86" width="4.3" height="7" fill="#474747"/>
<rect x="483.71" y="1257.48" width="28" height="4.5" fill="#474747"/>
<path d="M484.93 1230.35 A20 20 0 0 0 467.61 1238.68" fill="none" stroke="#4a4a4a" stroke-width="0.9"/>
<polyline points="467.61,1238.68 485.14,1257.45" fill="none" stroke="#444" stroke-width="1.4" stroke-linejoin="miter"/>
<rect x="511.03" y="1178.84" width="5.5" height="7.3" fill="#474747"/>
<rect x="511.04" y="1179.44" width="126" height="4.5" fill="#474747"/>
<polyline points="513.61,1184.14 532.81,1204.53" fill="none" stroke="#444" stroke-width="1.4" stroke-linejoin="miter"/>
<path d="M532.81 1204.53 A20 20 0 0 1 514.88 1213.15" fill="none" stroke="#4a4a4a" stroke-width="0.9"/>
<rect x="510.18" y="1213.13" width="5.5" height="55.4" fill="#474747"/>
<path d="M511.88 1268.52 A18 18 0 0 1 529.62 1279.5" fill="none" stroke="#4a4a4a" stroke-width="1.2"/>
<polyline points="529.62,1279.5 514.07,1290.14" fill="none" stroke="#444" stroke-width="1.6" stroke-linejoin="miter"/>
<polyline points="513.66,1318.14 528.94,1326.29 514.39,1337.14" fill="none" stroke="#444" stroke-width="1.6" stroke-linejoin="miter"/>
<rect x="510.5" y="1339.13" width="4.6" height="7.5" fill="#474747"/>
<polyline points="500.45,1229.4 498.76,1345.99" fill="none" stroke="#777" stroke-width="0.8" stroke-dasharray="5 3" stroke-linejoin="miter"/>
<rect x="631.3" y="1180.04" width="5.4" height="174.8" fill="#474747"/>
<rect x="485.09" y="1346.94" width="66.1" height="8.1" fill="#474747"/>
<polyline points="551.24,1347.53 596.53,1347.99" fill="none" stroke="#4e4e4e" stroke-width="1" stroke-linejoin="miter"/>
<polyline points="551.14,1354.43 596.43,1354.89" fill="none" stroke="#4e4e4e" stroke-width="1" stroke-linejoin="miter"/>
<polyline points="551.19,1350.98 596.48,1351.44" fill="none" stroke="#4e4e4e" stroke-width="1.2" stroke-linejoin="miter"/>
<rect x="596.48" y="1347.34" width="44.4" height="8.1" fill="#474747"/>
<text x="528.1" y="1260.48" font-family='"Liberation Serif", serif' font-size="17.82" font-weight="normal" fill="#2e2e2e" stroke="#2e2e2e" stroke-width="0.25" textLength="91.4" lengthAdjust="spacingAndGlyphs">BEDROOM</text>
<text x="533.18" y="1282.33" font-family='"Liberation Serif", serif' font-size="20.54" font-weight="normal" fill="#2e2e2e" stroke="#2e2e2e" stroke-width="0.25" textLength="79.7" lengthAdjust="spacingAndGlyphs">14'3 x 10'4</text>
<rect x="636.75" y="1307.82" width="11" height="8.2" fill="#474747"/>
<rect x="717.54" y="1308.65" width="14.5" height="8.2" fill="#474747"/>
<rect x="724.46" y="1308.68" width="7.3" height="47.1" fill="#474747"/>
<polyline points="641.22,1348.61 724.21,1349.04" fill="none" stroke="#777" stroke-width="0.8" stroke-dasharray="6 3" stroke-linejoin="miter"/>
<polyline points="641.14,1354.41 724.13,1354.84" fill="none" stroke="#777" stroke-width="0.8" stroke-dasharray="6 3" stroke-linejoin="miter"/>
<polyline points="647.69,1316.08 717.48,1316.57" fill="none" stroke="#666" stroke-width="0.7" stroke-linejoin="miter"/>
<polyline points="653.19,1316.13 671.85,1339.72" fill="none" stroke="#444" stroke-width="2.2" stroke-linejoin="miter"/>
<polyline points="715.68,1316.76 692.75,1339.93" fill="none" stroke="#444" stroke-width="2.2" stroke-linejoin="miter"/>
<path d="M671.85 1339.72 A27 27 0 0 1 683.69 1316.44" fill="none" stroke="#4a4a4a" stroke-width="0.8"/>
<path d="M692.75 1339.93 A27 27 0 0 0 683.69 1316.44" fill="none" stroke="#4a4a4a" stroke-width="0.8"/>
<text x="654.15" y="1249.94" font-family='"Liberation Sans", sans-serif' font-size="16.48" font-weight="normal" fill="#2e2e2e" stroke="#2e2e2e" stroke-width="0.35" textLength="59.8" lengthAdjust="spacingAndGlyphs">FOYER</text>
<rect x="724.17" y="1348.76" width="48.2" height="7.2" fill="#474747"/>
<rect x="859.66" y="1349.36" width="79.2" height="7.2" fill="#474747"/>
<polyline points="938.9,1350.02 973.99,1350.37" fill="none" stroke="#4e4e4e" stroke-width="1" stroke-linejoin="miter"/>
<polyline points="938.81,1356.01 973.91,1356.37" fill="none" stroke="#4e4e4e" stroke-width="1" stroke-linejoin="miter"/>
<polyline points="938.86,1353.02 973.95,1353.37" fill="none" stroke="#4e4e4e" stroke-width="1.2" stroke-linejoin="miter"/>
<rect x="973.95" y="1349.73" width="34.2" height="7.2" fill="#474747"/>
<text x="766.73" y="1258.07" font-family='"Liberation Sans", sans-serif' font-size="16.76" font-weight="normal" fill="#2e2e2e" stroke="#2e2e2e" stroke-width="0.35" textLength="101.3" lengthAdjust="spacingAndGlyphs">DINING RM</text>
<text x="776.41" y="1280.26" font-family='"Liberation Sans", sans-serif' font-size="18.3" font-weight="normal" fill="#2e2e2e" stroke="#2e2e2e" stroke-width="0.35" textLength="82.3" lengthAdjust="spacingAndGlyphs">14'7 x 14'6</text>
<polyline points="859.62,1350.52 856.75,1353.06 853.72,1355.41 850.55,1357.57 847.25,1359.53 843.84,1361.27 840.32,1362.8 836.72,1364.1 833.04,1365.17 829.3,1366 825.52,1366.6 821.71,1366.96 817.88,1367.08 814.06,1366.95 810.25,1366.58 806.47,1365.98 802.74,1365.13 799.08,1364.05 795.49,1362.74 791.99,1361.21 788.59,1359.45 785.32,1357.49 782.18,1355.32 779.18,1352.96 776.33,1350.41" fill="none" stroke="#555" stroke-width="0.9" stroke-linejoin="miter"/>
<polyline points="862.22,1353.28 859.17,1355.98 855.95,1358.48 852.58,1360.78 849.08,1362.85 845.45,1364.71 841.71,1366.33 837.88,1367.71 833.97,1368.85 830,1369.74 825.98,1370.37 821.92,1370.75 817.86,1370.88 813.79,1370.74 809.75,1370.35 805.73,1369.71 801.77,1368.81 797.87,1367.66 794.06,1366.27 790.34,1364.64 786.73,1362.78 783.25,1360.69 779.91,1358.38 776.72,1355.87 773.7,1353.16" fill="none" stroke="#555" stroke-width="1.1" stroke-linejoin="miter"/>
<polyline points="864.89,1356.11 861.65,1358.97 858.24,1361.63 854.67,1364.06 850.95,1366.27 847.1,1368.23 843.13,1369.95 839.07,1371.42 834.92,1372.63 830.71,1373.57 826.45,1374.24 822.15,1374.64 817.84,1374.78 813.52,1374.63 809.23,1374.22 804.98,1373.53 800.77,1372.58 796.64,1371.37 792.59,1369.89 788.65,1368.16 784.82,1366.18 781.13,1363.97 777.59,1361.53 774.21,1358.86 771,1355.99" fill="none" stroke="#555" stroke-width="0.9" stroke-linejoin="miter"/>
<polyline points="802.86,1369.08 800.87,1368.57 798.9,1367.99 796.95,1367.35 795.02,1366.64 793.11,1365.88 791.23,1365.05" fill="none" stroke="#474747" stroke-width="8.2" stroke-linejoin="miter"/>
<polyline points="843.01,1365.8 841.1,1366.57 839.17,1367.28 837.21,1367.93 835.23,1368.51 833.24,1369.03 831.23,1369.49" fill="none" stroke="#474747" stroke-width="8.2" stroke-linejoin="miter"/>
<polygon points="772.43,1348.22 776.73,1348.27 774.11,1355.94 770.61,1355.91" fill="#474747"/>
<polygon points="858.22,1348.78 860.72,1348.81 864.6,1356.65 860.1,1356.6" fill="#474747"/>
<rect x="900.2" y="1182.21" width="42.1" height="5.2" fill="#474747"/>
<path d="M942.25 1187.62 A19 19 0 0 0 950.02 1203.7" fill="none" stroke="#4a4a4a" stroke-width="0.9"/>
<polyline points="950.02,1203.7 970.4,1184.2" fill="none" stroke="#444" stroke-width="1.6" stroke-linejoin="miter"/>
<rect x="970.39" y="1182.89" width="37.2" height="5.2" fill="#474747"/>
<rect x="900.01" y="1182.03" width="6" height="168.7" fill="#474747"/>
<polyline points="918.16,1187.18 915.81,1349.16" fill="none" stroke="#777" stroke-width="0.8" stroke-dasharray="5 3" stroke-linejoin="miter"/>
<polyline points="929.26,1187.29 926.91,1349.27" fill="none" stroke="#555" stroke-width="0.9" stroke-linejoin="miter"/>
<polyline points="986.45,1187.86 984.1,1349.84" fill="none" stroke="#555" stroke-width="0.9" stroke-linejoin="miter"/>
<polyline points="997.55,1187.98 996.74,1243.97" fill="none" stroke="#777" stroke-width="0.8" stroke-dasharray="5 3" stroke-linejoin="miter"/>
<polyline points="985.74,1243.86 1007.74,1244.08" fill="none" stroke="#666" stroke-width="0.8" stroke-linejoin="miter"/>
<rect x="987.35" y="1249.35" width="16.2" height="15" rx="2" fill="none" stroke="#444" stroke-width="1.2"/>
<polyline points="996.36,1269.96 996.07,1289.96" fill="none" stroke="#777" stroke-width="0.8" stroke-dasharray="4 3" stroke-linejoin="miter"/>
<polyline points="985.36,1269.85 1007.36,1270.07" fill="none" stroke="#666" stroke-width="0.8" stroke-linejoin="miter"/>
<polyline points="985.06,1290.35 1007.06,1290.57" fill="none" stroke="#666" stroke-width="0.8" stroke-linejoin="miter"/>
<polyline points="984.64,1319.45 1006.64,1319.67" fill="none" stroke="#666" stroke-width="0.8" stroke-linejoin="miter"/>
<text x="993.3" y="1308.43" font-family='"Liberation Serif", serif' font-size="9.06" font-weight="bold" fill="#333" stroke="#333" stroke-width="0.25" textLength="7.5" lengthAdjust="spacingAndGlyphs">W</text>
<text x="992.88" y="1337.43" font-family='"Liberation Serif", serif' font-size="9.06" font-weight="bold" fill="#333" stroke="#333" stroke-width="0.25" textLength="7" lengthAdjust="spacingAndGlyphs">D</text>
<text transform="translate(960.53,1313.21) rotate(-90)" x="0" y="0" font-family='"Liberation Sans", sans-serif' font-size="18.2" fill="#2e2e2e" textLength="90.3" lengthAdjust="spacingAndGlyphs">LAUNDRY</text>
<rect x="1001.79" y="1134.29" width="14.3" height="4.6" fill="#474747"/>
<rect x="1008.13" y="1134.32" width="7.9" height="13.3" fill="#474747"/>
<polyline points="1015.69,1150.96 1034.16,1166.54" fill="none" stroke="#444" stroke-width="1.4" stroke-linejoin="miter"/>
<path d="M1034.16 1166.54 A20 20 0 0 1 1017.55 1174.18" fill="none" stroke="#4a4a4a" stroke-width="0.9"/>
<polyline points="1016.63,1147.67 1016.24,1175.16" fill="none" stroke="#888" stroke-width="0.6" stroke-linejoin="miter"/>
<rect x="1008.16" y="1174.12" width="8.6" height="167" fill="#474747"/>
<rect x="1008.2" y="1341.12" width="8.6" height="173" fill="#474747"/>
<rect x="1007.87" y="1505.91" width="32.3" height="9" fill="#474747"/>
<polyline points="1040.23,1506.33 1073.23,1506.66" fill="none" stroke="#4e4e4e" stroke-width="1" stroke-linejoin="miter"/>
<polyline points="1040.12,1514.13 1073.12,1514.46" fill="none" stroke="#4e4e4e" stroke-width="1" stroke-linejoin="miter"/>
<polyline points="1040.18,1510.23 1073.17,1510.56" fill="none" stroke="#4e4e4e" stroke-width="1.2" stroke-linejoin="miter"/>
<rect x="1073.17" y="1505.85" width="162.9" height="9" fill="#474747"/>
<polyline points="1236.13,1506.23 1269.13,1506.56" fill="none" stroke="#4e4e4e" stroke-width="1" stroke-linejoin="miter"/>
<polyline points="1236.02,1514.03 1269.02,1514.36" fill="none" stroke="#4e4e4e" stroke-width="1" stroke-linejoin="miter"/>
<polyline points="1236.08,1510.13 1269.07,1510.46" fill="none" stroke="#4e4e4e" stroke-width="1.2" stroke-linejoin="miter"/>
<rect x="1269.08" y="1505.78" width="30.8" height="9" fill="#474747"/>
<rect x="1289.99" y="1490.45" width="10" height="24.2" fill="#474747"/>
<polyline points="1291.19,1157.91 1290.37,1489.9" fill="none" stroke="#666" stroke-width="0.9" stroke-linejoin="miter"/>
<polyline points="1294.18,1157.94 1293.37,1489.93" fill="none" stroke="#888" stroke-width="0.7" stroke-linejoin="miter"/>
<rect x="1292.33" y="1261.56" width="7.7" height="20.9" fill="#474747"/>
<rect x="1283.33" y="1129.92" width="16.6" height="8" fill="#474747"/>
<rect x="1292.19" y="1129.96" width="7.6" height="28" fill="#474747"/>
<text x="1085.87" y="1317.86" font-family='"Liberation Sans", sans-serif' font-size="16.9" font-weight="normal" fill="#2e2e2e" stroke="#2e2e2e" stroke-width="0.35" textLength="135.4" lengthAdjust="spacingAndGlyphs">3 CAR GARAGE</text>
<text x="1122.94" y="1340.23" font-family='"Liberation Sans", sans-serif' font-size="16.9" font-weight="normal" fill="#2e2e2e" stroke="#2e2e2e" stroke-width="0.35" textLength="62.8" lengthAdjust="spacingAndGlyphs">32' x 24'</text>
<polyline points="492.07,1413.92 491.04,1512.91" fill="none" stroke="#555" stroke-width="0.9" stroke-linejoin="miter"/>
<polyline points="490.64,1512.91 1007.82,1514.48" fill="none" stroke="#555" stroke-width="0.9" stroke-dasharray="20 2 4 2" stroke-linejoin="miter"/>
<text x="671.52" y="1431.72" font-family='"Liberation Serif", serif' font-size="22.21" font-weight="normal" fill="#2e2e2e" stroke="#2e2e2e" stroke-width="0.25" textLength="154.9" lengthAdjust="spacingAndGlyphs">ENTRY TERRACE</text>
<text x="708.01" y="1452.48" font-family='"Liberation Serif", serif' font-size="19.49" font-weight="normal" fill="#2e2e2e" stroke="#2e2e2e" stroke-width="0.25" textLength="83.1" lengthAdjust="spacingAndGlyphs">44'8 x 13'9</text>
<rect x="778.57" y="960.81" width="4" height="175.6" fill="#474747"/>
<rect x="777.31" y="1133.26" width="34.2" height="5" fill="#474747"/>
<rect x="845.6" y="1133.82" width="122.4" height="5" fill="#474747"/>
<polyline points="811.54,1133.62 845.63,1133.86" fill="none" stroke="#777" stroke-width="0.8" stroke-dasharray="4 3" stroke-linejoin="miter"/>
<polyline points="811.48,1137.31 845.58,1137.56" fill="none" stroke="#777" stroke-width="0.8" stroke-dasharray="4 3" stroke-linejoin="miter"/>
<polyline points="968.03,1134.28 1002.13,1134.42" fill="none" stroke="#777" stroke-width="0.8" stroke-dasharray="4 3" stroke-linejoin="miter"/>
<polyline points="967.97,1138.28 1002.07,1138.42" fill="none" stroke="#777" stroke-width="0.8" stroke-dasharray="4 3" stroke-linejoin="miter"/>
<polyline points="805.51,984.06 924,984.74" fill="none" stroke="#666" stroke-width="0.9" stroke-linejoin="miter"/>
<polyline points="805.51,984.06 805.32,997.05" fill="none" stroke="#666" stroke-width="0.9" stroke-linejoin="miter"/>
<polyline points="806.9,1026.07 805.82,1100.06" fill="none" stroke="#666" stroke-width="0.9" stroke-linejoin="miter"/>
<polyline points="924,984.74 923,1053.63" fill="none" stroke="#666" stroke-width="0.9" stroke-linejoin="miter"/>
<polyline points="923,1053.63 947.09,1053.87" fill="none" stroke="#666" stroke-width="0.9" stroke-linejoin="miter"/>
<polyline points="948.42,962.48 947.09,1053.87" fill="none" stroke="#666" stroke-width="0.9" stroke-linejoin="miter"/>
<polyline points="793.38,992.93 793.68,971.94 839.68,972.4 839.82,962.4" fill="none" stroke="#777" stroke-width="0.8" stroke-dasharray="4 3" stroke-linejoin="miter"/>
<rect x="783.11" y="996.96" width="25" height="29" fill="none" stroke="#555" stroke-width="0.9"/>
<circle cx="788.73" cy="1002.89" r="3.6" fill="none" stroke="#444" stroke-width="0.9"/>
<circle cx="802.23" cy="1003.02" r="3.6" fill="none" stroke="#444" stroke-width="0.9"/>
<circle cx="788.49" cy="1019.88" r="3.6" fill="none" stroke="#444" stroke-width="0.9"/>
<circle cx="801.98" cy="1020.02" r="3.6" fill="none" stroke="#444" stroke-width="0.9"/>
<rect x="848.96" y="962.15" width="32.1" height="22.5" fill="none" stroke="#555" stroke-width="0.9"/>
<rect x="851.16" y="964.58" width="13" height="18" rx="1.5" fill="none" stroke="#555" stroke-width="0.8"/>
<rect x="865.66" y="964.72" width="13" height="18" rx="1.5" fill="none" stroke="#555" stroke-width="0.8"/>
<circle cx="857.66" cy="973.58" r="1" fill="#333"/>
<circle cx="872.16" cy="973.72" r="1" fill="#333"/>
<polyline points="783.86,1028.34 793.86,1028.44 793.37,1062.43 783.37,1062.33" fill="none" stroke="#777" stroke-width="0.8" stroke-dasharray="4 3" stroke-linejoin="miter"/>
<rect x="782.07" y="1066.34" width="24.5" height="34.1" fill="none" stroke="#555" stroke-width="0.9"/>
<rect x="777.78" y="1100.42" width="28" height="5" fill="#474747"/>
<polyline points="805.74,1105.56 822.81,1114.83" fill="none" stroke="#444" stroke-width="1.3" stroke-linejoin="miter"/>
<polyline points="822.81,1114.83 802.35,1132.62" fill="none" stroke="#444" stroke-width="1.3" stroke-linejoin="miter"/>
<polyline points="794.74,1105.95 794.36,1131.94" fill="none" stroke="#777" stroke-width="0.8" stroke-dasharray="3 2" stroke-linejoin="miter"/>
<rect x="850.8" y="1111.57" width="113.4" height="22.1" fill="none" stroke="#555" stroke-width="0.9"/>
<polyline points="880.06,1111.3 879.74,1133.4" fill="none" stroke="#555" stroke-width="0.9" stroke-linejoin="miter"/>
<polyline points="879.9,1122.4 964.19,1123.24" fill="none" stroke="#777" stroke-width="0.8" stroke-dasharray="4 3" stroke-linejoin="miter"/>
<text x="823.84" y="1043.54" font-family='"Liberation Sans", sans-serif' font-size="16.76" font-weight="normal" fill="#2e2e2e" stroke="#2e2e2e" stroke-width="0.35" textLength="82.3" lengthAdjust="spacingAndGlyphs">KITCHEN</text>
<text x="818.32" y="1065.58" font-family='"Liberation Sans", sans-serif' font-size="18.16" font-weight="normal" fill="#2e2e2e" stroke="#2e2e2e" stroke-width="0.35" textLength="92.5" lengthAdjust="spacingAndGlyphs">23'2 x 14'10</text>
<polyline points="1051.25,967.51 1050.93,989.51" fill="none" stroke="#777" stroke-width="0.8" stroke-dasharray="4 3" stroke-linejoin="miter"/>
<polyline points="1055.25,967.55 1054.93,989.55" fill="none" stroke="#777" stroke-width="0.8" stroke-dasharray="4 3" stroke-linejoin="miter"/>
<polyline points="1050.42,1045.5 1049.53,1106.5" fill="none" stroke="#777" stroke-width="0.8" stroke-dasharray="4 3" stroke-linejoin="miter"/>
<polyline points="1054.41,1045.54 1053.53,1106.54" fill="none" stroke="#777" stroke-width="0.8" stroke-dasharray="4 3" stroke-linejoin="miter"/>
<rect x="1050.33" y="1106.52" width="4.2" height="28" fill="#474747"/>
<rect x="1007.29" y="1107.59" width="4" height="31.5" fill="#474747"/>
<polyline points="1011.46,1111.61 1050.45,1112" fill="none" stroke="#666" stroke-width="0.8" stroke-linejoin="miter"/>
<polyline points="1011.3,1122.71 1050.29,1123.1" fill="none" stroke="#777" stroke-width="0.8" stroke-dasharray="4 3" stroke-linejoin="miter"/>
<text x="965.81" y="1011.16" font-family='"Liberation Sans", sans-serif' font-size="15.78" font-weight="normal" fill="#2e2e2e" stroke="#2e2e2e" stroke-width="0.35" textLength="108.1" lengthAdjust="spacingAndGlyphs">BREAKFAST</text>
<text x="995.59" y="1033.76" font-family='"Liberation Sans", sans-serif' font-size="15.78" font-weight="normal" fill="#2e2e2e" stroke="#2e2e2e" stroke-width="0.35" textLength="49.2" lengthAdjust="spacingAndGlyphs">AREA</text>
<text x="1070.66" y="1083.71" font-family='"Liberation Sans", sans-serif' font-size="16.76" font-weight="normal" fill="#2e2e2e" stroke="#2e2e2e" stroke-width="0.35" textLength="72.4" lengthAdjust="spacingAndGlyphs">SITTING</text>
<text x="1083.54" y="1105.54" font-family='"Liberation Sans", sans-serif' font-size="17.74" font-weight="normal" fill="#2e2e2e" stroke="#2e2e2e" stroke-width="0.35" textLength="48.2" lengthAdjust="spacingAndGlyphs">AREA</text>
<rect x="1161.99" y="1043.15" width="6.5" height="91.5" fill="#474747"/>
<rect x="1162.62" y="1043.18" width="11" height="4.5" fill="#474747"/>
<path d="M1169.07 1048.69 A20 20 0 0 0 1178.83 1065.29" fill="none" stroke="#4a4a4a" stroke-width="0.9"/>
<polyline points="1178.83,1065.29 1195.63,1044.56" fill="none" stroke="#444" stroke-width="1.5" stroke-linejoin="miter"/>
<rect x="1195.62" y="1041.59" width="127.6" height="7" fill="#474747"/>
<rect x="1238.36" y="1048.43" width="8.6" height="5" fill="#474747"/>
<polyline points="1239.19,1053.39 1238.72,1086.39" fill="none" stroke="#4e4e4e" stroke-width="1" stroke-linejoin="miter"/>
<polyline points="1246.59,1053.47 1246.11,1086.46" fill="none" stroke="#4e4e4e" stroke-width="1" stroke-linejoin="miter"/>
<polyline points="1242.89,1053.43 1242.41,1086.42" fill="none" stroke="#4e4e4e" stroke-width="1.2" stroke-linejoin="miter"/>
<rect x="1238.35" y="1086.43" width="8.6" height="49" fill="#474747"/>
<rect x="1001.69" y="1134.27" width="252" height="5" fill="#474747"/>
<path d="M1237.88 1061.88 C1220.42 1059.2 1208.33 1065.08 1209.25 1070.59 C1210.17 1076.1 1222.1 1081.22 1237.62 1079.88" fill="none" stroke="#444" stroke-width="1"/>
<rect x="1167.99" y="1111.51" width="25.5" height="23.3" fill="none" stroke="#666" stroke-width="0.8"/>
<circle cx="1179.51" cy="1121.4" r="8.2" fill="none" stroke="#444" stroke-width="1.2"/>
<circle cx="1179.51" cy="1121.4" r="5.6" fill="none" stroke="#666" stroke-width="0.7"/>
<circle cx="1179.52" cy="1120.8" r="1" fill="#333"/>
<text x="1176.83" y="1099.37" font-family='"Liberation Sans", sans-serif' font-size="16.9" font-weight="normal" fill="#2e2e2e" stroke="#2e2e2e" stroke-width="0.35" textLength="52" lengthAdjust="spacingAndGlyphs">PWDR</text>
<rect x="1245.32" y="1129.5" width="10" height="11" fill="#474747"/>
<polyline points="1257.09,1129.87 1273.68,1110.24" fill="none" stroke="#444" stroke-width="1.4" stroke-linejoin="miter"/>
<path d="M1273.68 1110.24 A21 21 0 0 1 1283.39 1130.13" fill="none" stroke="#4a4a4a" stroke-width="0.9"/>
<polyline points="1315.29,853.15 1314.68,895.15" fill="none" stroke="#4e4e4e" stroke-width="1" stroke-linejoin="miter"/>
<polyline points="1323.69,853.24 1323.08,895.23" fill="none" stroke="#4e4e4e" stroke-width="1" stroke-linejoin="miter"/>
<polyline points="1319.49,853.19 1318.88,895.19" fill="none" stroke="#4e4e4e" stroke-width="1.2" stroke-linejoin="miter"/>
<rect x="1314.38" y="895.19" width="9.6" height="16" fill="#474747"/>
<rect x="1314.36" y="981.19" width="9.6" height="21" fill="#474747"/>
<polyline points="1315.22,1002.15 1314.7,1038.15" fill="none" stroke="#4e4e4e" stroke-width="1" stroke-linejoin="miter"/>
<polyline points="1323.62,1002.24 1323.09,1038.23" fill="none" stroke="#4e4e4e" stroke-width="1" stroke-linejoin="miter"/>
<polyline points="1319.42,1002.19 1318.9,1038.19" fill="none" stroke="#4e4e4e" stroke-width="1.2" stroke-linejoin="miter"/>
<rect x="1314.35" y="1038.19" width="9.6" height="11" fill="#474747"/>
<rect x="1308.05" y="911.23" width="30" height="70" fill="#474747"/>
<polygon points="1308.76,924.89 1326.43,933.96 1326.07,959.26 1308.12,969.48" fill="#fff"/>
<polyline points="1308.76,924.89 1326.43,933.96 1326.07,959.26 1308.12,969.48" fill="none" stroke="#555" stroke-width="0.8" stroke-linejoin="miter"/>
<text x="1117.91" y="942.18" font-family='"Liberation Sans", sans-serif' font-size="17.32" font-weight="normal" fill="#2e2e2e" stroke="#2e2e2e" stroke-width="0.35" textLength="132.2" lengthAdjust="spacingAndGlyphs">FAMILY ROOM</text>
<text x="1144.38" y="964.94" font-family='"Liberation Sans", sans-serif' font-size="18.85" font-weight="normal" fill="#2e2e2e" stroke="#2e2e2e" stroke-width="0.35" textLength="80.4" lengthAdjust="spacingAndGlyphs">22'8 x 16'5</text>
<rect x="1045.44" y="847.5" width="10" height="6" fill="#474747"/>
<polyline points="1047,853.47 1045.64,947.46" fill="none" stroke="#4e4e4e" stroke-width="1" stroke-linejoin="miter"/>
<polyline points="1052.3,853.52 1050.94,947.51" fill="none" stroke="#4e4e4e" stroke-width="1" stroke-linejoin="miter"/>
<rect x="1044.89" y="947.49" width="9" height="19.5" fill="#474747"/>
<polyline points="1061.26,849.41 1080.76,828.81" fill="none" stroke="#444" stroke-width="1.4" stroke-linejoin="miter"/>
<path d="M1080.76 828.81 A21 21 0 0 1 1089.45 849.69" fill="none" stroke="#4a4a4a" stroke-width="0.9"/>
<rect x="1047.24" y="584.05" width="10" height="9" fill="#474747"/>
<polyline points="1057.3,584.48 1091.9,584.83" fill="none" stroke="#4e4e4e" stroke-width="1" stroke-linejoin="miter"/>
<polyline points="1057.19,592.28 1091.78,592.62" fill="none" stroke="#4e4e4e" stroke-width="1" stroke-linejoin="miter"/>
<polyline points="1057.24,588.38 1091.84,588.73" fill="none" stroke="#4e4e4e" stroke-width="1.2" stroke-linejoin="miter"/>
<rect x="1091.84" y="584.05" width="75.9" height="9" fill="#474747"/>
<polyline points="1167.8,584.49 1200.3,584.82" fill="none" stroke="#4e4e4e" stroke-width="1" stroke-linejoin="miter"/>
<polyline points="1167.69,592.29 1200.18,592.61" fill="none" stroke="#4e4e4e" stroke-width="1" stroke-linejoin="miter"/>
<polyline points="1167.74,588.39 1200.24,588.71" fill="none" stroke="#4e4e4e" stroke-width="1.2" stroke-linejoin="miter"/>
<rect x="1200.24" y="584.05" width="77.6" height="9" fill="#474747"/>
<polyline points="1277.9,584.48 1312.3,584.82" fill="none" stroke="#4e4e4e" stroke-width="1" stroke-linejoin="miter"/>
<polyline points="1277.79,592.28 1312.18,592.62" fill="none" stroke="#4e4e4e" stroke-width="1" stroke-linejoin="miter"/>
<polyline points="1277.84,588.38 1312.24,588.72" fill="none" stroke="#4e4e4e" stroke-width="1.2" stroke-linejoin="miter"/>
<rect x="1312.24" y="584.05" width="29.6" height="9" fill="#474747"/>
<polyline points="1341.9,584.42 1389.29,584.89" fill="none" stroke="#4e4e4e" stroke-width="1" stroke-linejoin="miter"/>
<polyline points="1341.79,592.21 1389.18,592.69" fill="none" stroke="#4e4e4e" stroke-width="1" stroke-linejoin="miter"/>
<polyline points="1341.84,588.32 1389.24,588.79" fill="none" stroke="#4e4e4e" stroke-width="1.2" stroke-linejoin="miter"/>
<rect x="1389.24" y="584.05" width="25.6" height="9" fill="#474747"/>
<polyline points="1414.9,584.42 1460.99,584.88" fill="none" stroke="#4e4e4e" stroke-width="1" stroke-linejoin="miter"/>
<polyline points="1414.79,592.22 1460.88,592.68" fill="none" stroke="#4e4e4e" stroke-width="1" stroke-linejoin="miter"/>
<polyline points="1414.84,588.32 1460.94,588.78" fill="none" stroke="#4e4e4e" stroke-width="1.2" stroke-linejoin="miter"/>
<rect x="1460.94" y="584.05" width="13.3" height="9" fill="#474747"/>
<text x="1118.83" y="679.19" font-family='"Liberation Sans", sans-serif' font-size="17.18" font-weight="normal" fill="#2e2e2e" stroke="#2e2e2e" stroke-width="0.35" textLength="132.4" lengthAdjust="spacingAndGlyphs">MASTER SUITE</text>
<text x="1148.22" y="700.48" font-family='"Liberation Sans", sans-serif' font-size="18.72" font-weight="normal" fill="#2e2e2e" stroke="#2e2e2e" stroke-width="0.35" textLength="73" lengthAdjust="spacingAndGlyphs">22'9 x 22'</text>
<rect x="1315.01" y="586.21" width="12.5" height="107" fill="#474747"/>
<rect x="1314.98" y="739.21" width="12.5" height="36" fill="#474747"/>
<polyline points="1315.72,693.16 1315.06,739.15" fill="none" stroke="#777" stroke-width="0.8" stroke-dasharray="4 3" stroke-linejoin="miter"/>
<polyline points="1325.22,693.25 1324.56,739.25" fill="none" stroke="#777" stroke-width="0.8" stroke-dasharray="4 3" stroke-linejoin="miter"/>
<rect x="1466.49" y="585.71" width="8.2" height="85" fill="#474747"/>
<polyline points="1467.42,670.67 1466.73,718.67" fill="none" stroke="#4e4e4e" stroke-width="1" stroke-linejoin="miter"/>
<polyline points="1474.42,670.74 1473.73,718.74" fill="none" stroke="#4e4e4e" stroke-width="1" stroke-linejoin="miter"/>
<polyline points="1470.92,670.71 1470.23,718.7" fill="none" stroke="#4e4e4e" stroke-width="1.2" stroke-linejoin="miter"/>
<rect x="1466.46" y="718.71" width="8.2" height="138" fill="#474747"/>
<rect x="1325.53" y="772.97" width="143" height="4.5" fill="#474747"/>
<rect x="1403.85" y="593.07" width="6.7" height="45" fill="#474747"/>
<rect x="1403.55" y="634.01" width="34" height="5" fill="#474747"/>
<rect x="1410.56" y="595.88" width="54.3" height="38" fill="none" stroke="#555" stroke-width="0.9"/>
<polyline points="1410.84,595.61 1464.58,634.15" fill="none" stroke="#555" stroke-width="0.8" stroke-linejoin="miter"/>
<polyline points="1465.13,596.15 1410.29,633.6" fill="none" stroke="#555" stroke-width="0.8" stroke-linejoin="miter"/>
<polyline points="1326.9,681.27 1355.58,668.56" fill="none" stroke="#474747" stroke-width="4" stroke-linejoin="miter"/>
<polyline points="1355.58,668.56 1361.99,640.12" fill="none" stroke="#444" stroke-width="1.4" stroke-linejoin="miter"/>
<path d="M1361.99 640.12 A22 22 0 0 1 1379.6 653.7" fill="none" stroke="#4a4a4a" stroke-width="0.9"/>
<polyline points="1379.6,653.7 1408.14,637.08" fill="none" stroke="#474747" stroke-width="4" stroke-linejoin="miter"/>
<path d="M1436.52 638.37 A20 20 0 0 0 1445.27 655.45" fill="none" stroke="#4a4a4a" stroke-width="0.9"/>
<polyline points="1445.27,655.45 1464.51,638.65" fill="none" stroke="#444" stroke-width="1.3" stroke-linejoin="miter"/>
<path d="M1371.17 593.71 L1393.16 593.93 C1393.95 608.94 1386.77 620.87 1381.77 620.82 C1375.77 620.76 1369.95 608.7 1371.17 593.71" fill="none" stroke="#444" stroke-width="1"/>
<rect x="1420.7" y="664.43" width="44" height="61" fill="none" stroke="#666" stroke-width="0.8"/>
<ellipse cx="1442.71" cy="694.43" rx="14" ry="27" fill="none" stroke="#444" stroke-width="1.5"/>
<ellipse cx="1442.71" cy="694.43" rx="11.5" ry="24" fill="none" stroke="#666" stroke-width="0.7"/>
<polyline points="1325.9,749.86 1461.89,750.82" fill="none" stroke="#666" stroke-width="0.8" stroke-linejoin="miter"/>
<circle cx="1365.77" cy="759.26" r="8.6" fill="none" stroke="#444" stroke-width="1.3"/>
<circle cx="1365.77" cy="759.26" r="6" fill="none" stroke="#666" stroke-width="0.7"/>
<circle cx="1365.77" cy="758.66" r="1" fill="#333"/>
<circle cx="1427.76" cy="759.88" r="8.6" fill="none" stroke="#444" stroke-width="1.3"/>
<circle cx="1427.76" cy="759.88" r="6" fill="none" stroke="#666" stroke-width="0.7"/>
<circle cx="1427.77" cy="759.28" r="1" fill="#333"/>
<text x="1338.57" y="703.89" font-family='"Liberation Sans", sans-serif' font-size="16.62" font-weight="normal" fill="#2e2e2e" stroke="#2e2e2e" stroke-width="0.35" textLength="74.6" lengthAdjust="spacingAndGlyphs">MASTER</text>
<text x="1351.87" y="724.52" font-family='"Liberation Sans", sans-serif' font-size="16.2" font-weight="normal" fill="#2e2e2e" stroke="#2e2e2e" stroke-width="0.35" textLength="49.1" lengthAdjust="spacingAndGlyphs">BATH</text>
<rect x="1097.51" y="775.23" width="170" height="3.6" fill="#474747"/>
<rect x="1096.98" y="774.39" width="5" height="77.6" fill="#474747"/>
<rect x="1089.43" y="848.71" width="383" height="5.2" fill="#474747"/>
<path d="M1267.48 778.67 A20 20 0 0 0 1260 798.6" fill="none" stroke="#4a4a4a" stroke-width="0.9"/>
<polyline points="1260,798.6 1322.49,799.22" fill="none" stroke="#444" stroke-width="0.9" stroke-linejoin="miter"/>
<path d="M1322.49 799.22 A22 22 0 0 0 1313.5 777.54" fill="none" stroke="#4a4a4a" stroke-width="0.9"/>
<rect x="1288.41" y="796.91" width="5.4" height="57" fill="#474747"/>
<rect x="1111.99" y="790" width="176" height="46" fill="none" stroke="#777" stroke-width="0.8" stroke-dasharray="4 3"/>
<rect x="1294" y="788.75" width="161" height="46" fill="none" stroke="#777" stroke-width="0.8" stroke-dasharray="4 3"/>
<polyline points="1240.34,788.4 1254.49,778.54" fill="none" stroke="#777" stroke-width="0.8" stroke-dasharray="3 2" stroke-linejoin="miter"/>
<polyline points="1330.2,777.7 1338.95,788.19" fill="none" stroke="#777" stroke-width="0.8" stroke-dasharray="3 2" stroke-linejoin="miter"/>
<text x="1147.85" y="822.48" font-family='"Liberation Sans", sans-serif' font-size="18.58" font-weight="normal" fill="#2e2e2e" stroke="#2e2e2e" stroke-width="0.35" textLength="77.5" lengthAdjust="spacingAndGlyphs">HER WIC</text>
<text x="1344.46" y="821.44" font-family='"Liberation Sans", sans-serif' font-size="16.76" font-weight="normal" fill="#2e2e2e" stroke="#2e2e2e" stroke-width="0.35" textLength="71.4" lengthAdjust="spacingAndGlyphs">HIS WIC</text>
</g>
</svg>
</body></html>
